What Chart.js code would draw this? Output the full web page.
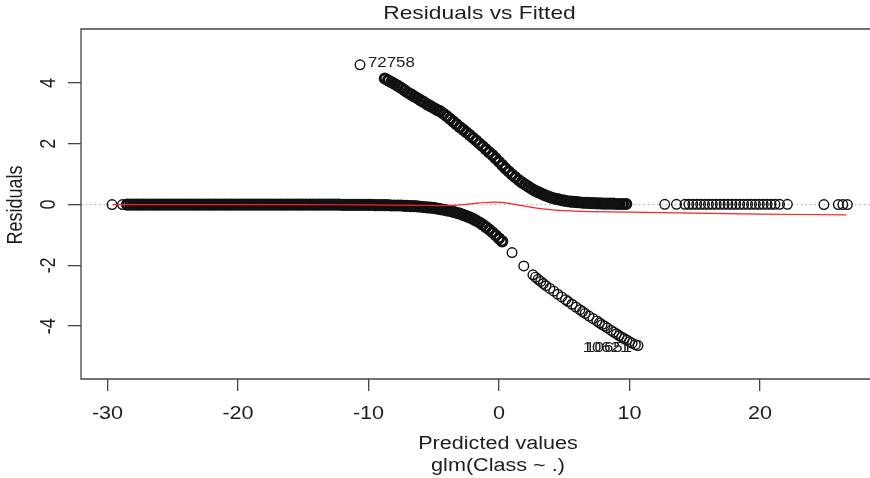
<!DOCTYPE html>
<html>
<head>
<meta charset="utf-8">
<script src="https://cdn.jsdelivr.net/npm/chart.js@4"></script>
<style>
  html, body { margin: 0; background: #fff; }
  #wrap { width: 870px; height: 478px; }
</style>
</head>
<body>
<div id="wrap"><canvas id="myChart"></canvas></div>
<script>
// ticks
const xTicks = [-30, -20, -10, 0, 10, 20];
const yTicks = [-4, -2, 0, 2, 4];

// class 0 residuals: dense band (flat on the left, bending down)
const lowerBandX = [
  -28.5, -28.25, -28, -27.75, -27.5, -27.25, -27, -26.75,
  -26.5, -26.25, -26, -25.75, -25.5, -25.25, -25, -24.75, -24.5, -24.25,
  -24, -23.75, -23.5, -23.25, -23, -22.75, -22.5, -22.25, -22, -21.75,
  -21.5, -21.25, -21, -20.75, -20.5, -20.25, -20, -19.75, -19.5, -19.25,
  -19, -18.75, -18.5, -18.25, -18, -17.75, -17.5, -17.25, -17, -16.75,
  -16.5, -16.25, -16, -15.75, -15.5, -15.25, -15, -14.75, -14.5, -14.25,
  -14, -13.75, -13.5, -13.25, -13, -12.75, -12.5, -12.25, -12, -11.75,
  -11.5, -11.25, -11, -10.75, -10.5, -10.25, -10, -9.75, -9.5, -9.25,
  -9, -8.75, -8.5, -8.25, -8, -7.75, -7.5, -7.25, -7, -6.75,
  -6.5, -6.25, -6, -5.75, -5.5, -5.25, -5, -4.75, -4.5, -4.25,
  -4, -3.75, -3.5, -3.25, -3, -2.75, -2.5, -2.25, -2, -1.75,
  -1.5, -1.25, -1, -0.75, -0.5, -0.25, 0, 0.25
];
const lowerBandY = [
  0, 0, 0, 0, 0, 0, 0, 0,
  0, 0, 0, 0, 0, 0, 0, 0, 0, 0,
  0, 0, 0, 0, 0, 0, 0, 0, 0, 0,
  0, 0, 0, 0, 0, 0, 0, 0, 0, 0,
  0, 0, 0, 0, 0, 0, 0, 0, 0, 0,
  0, 0, 0, 0, 0, 0, 0, 0, 0, 0,
  0, 0, 0, 0, 0, 0, 0, 0, -0.01, -0.01,
  -0.01, -0.01, -0.01, -0.01, -0.01, -0.01, -0.01, -0.01, -0.02, -0.02,
  -0.02, -0.02, -0.02, -0.03, -0.03, -0.03, -0.03, -0.04, -0.04, -0.05,
  -0.05, -0.06, -0.07, -0.08, -0.09, -0.10, -0.11, -0.13, -0.15, -0.17,
  -0.19, -0.21, -0.24, -0.27, -0.30, -0.34, -0.38, -0.42, -0.47, -0.53,
  -0.59, -0.66, -0.74, -0.82, -0.91, -1.01, -1.11, -1.21
];
// class 0 residuals: separate circles
const lowerSparseX = [
  -29.65, -28.85, 1.0, 1.9,
  2.6, 2.8, 3.0, 3.2, 3.4, 3.6, 3.9, 4.2, 4.5, 4.8,
  5.1, 5.3, 5.6, 5.9, 6.2, 6.4, 6.6, 6.9, 7.2, 7.5,
  7.7, 7.9, 8.1, 8.3, 8.6, 8.8, 9.0, 9.2, 9.4, 9.6,
  9.8, 10.0, 10.2, 10.45, 10.65
];
const lowerSparseY = [
  0, 0, -1.58, -2.02,
  -2.31, -2.39, -2.46, -2.53, -2.60, -2.67, -2.76, -2.85, -2.95, -3.04,
  -3.13, -3.19, -3.28, -3.37, -3.46, -3.52, -3.58, -3.67, -3.75, -3.83,
  -3.89, -3.95, -4.00, -4.06, -4.14, -4.20, -4.25, -4.31, -4.36, -4.41,
  -4.46, -4.51, -4.56, -4.61, -4.64
];

// class 1 residuals: dense upper curve
const upperBandX = [
  -8.75, -8.5, -8.25, -8, -7.75, -7.5, -7.25, -7, -6.75,
  -6.5, -6.25, -6, -5.75, -5.5, -5.25, -5, -4.75, -4.5, -4.25,
  -4, -3.75, -3.5, -3.25, -3, -2.75, -2.5, -2.25, -2, -1.75,
  -1.5, -1.25, -1, -0.75, -0.5, -0.25, 0, 0.25, 0.5, 0.75,
  1, 1.25, 1.5, 1.75, 2, 2.25, 2.5, 2.75, 3, 3.25,
  3.5, 3.75, 4, 4.25, 4.5, 4.75, 5, 5.25, 5.5, 5.75,
  6, 6.25, 6.5, 6.75, 7, 7.25, 7.5, 7.75, 8, 8.25,
  8.5, 8.75, 9, 9.25, 9.5, 9.75
];
const upperBandY = [
  4.15, 4.09, 4.03, 3.97, 3.91, 3.84, 3.77, 3.69, 3.63,
  3.56, 3.50, 3.43, 3.37, 3.30, 3.24, 3.18, 3.12, 3.07, 2.99,
  2.91, 2.82, 2.73, 2.64, 2.55, 2.47, 2.38, 2.29, 2.20, 2.11,
  2.01, 1.92, 1.82, 1.72, 1.63, 1.52, 1.41, 1.30, 1.19, 1.09,
  0.99, 0.90, 0.81, 0.73, 0.66, 0.59, 0.52, 0.46, 0.41, 0.36,
  0.31, 0.27, 0.23, 0.20, 0.18, 0.15, 0.13, 0.11, 0.10, 0.09,
  0.08, 0.07, 0.06, 0.06, 0.05, 0.05, 0.04, 0.04, 0.03, 0.03,
  0.03, 0.03, 0.02, 0.02, 0.02, 0.02
];
// class 1 residuals: separate circles
const upperSparseX = [
  -10.65, 12.7, 13.6, 14.25, 14.55,
  14.85, 15.15, 15.45, 15.75, 16.05, 16.35, 16.65, 16.95, 17.25, 17.55,
  17.85, 18.15, 18.45, 18.75, 19.05, 19.35, 19.65, 19.95, 20.25, 20.55,
  20.85, 21.15, 21.5, 22.1, 24.9, 26.0, 26.35, 26.7
];
const upperSparseY = [
  4.6, 0.01, 0.01, 0.01, 0.01,
  0.01, 0.01, 0.01, 0.01, 0.01, 0.01, 0.01, 0.01, 0.01, 0.01,
  0.01, 0.01, 0.01, 0.01, 0.01, 0.01, 0.01, 0.01, 0.01, 0.01,
  0.01, 0.01, 0.01, 0.01, 0, 0, 0, 0
];

// red smoother
const smoothX = [-29.6, -25, -20, -15, -10, -7, -5, -4, -3, -2, -1, -0.3, 0.5, 1.5, 2.5, 3.5, 5, 7, 10, 15, 20, 26.6];
const smoothY = [0, 0, 0, 0, -0.01, -0.02, -0.03, -0.03, -0.01, 0.03, 0.07, 0.08, 0.06, -0.02, -0.09, -0.15, -0.2, -0.23, -0.25, -0.28, -0.31, -0.34];

// labelled observations
const labelNames = ["72758", "10651", "10621"];
const labelX = [-10.65, 10.65, 10.45];
const labelY = [4.6, -4.64, -4.61];

const xMin = -32.03, xMax = 28.43;
const yMin = -5.74, yMax = 5.78;
const zeroLineX = [xMin, xMax];

const stretch = 1.2;
const ink = "#1e1e1e";

function txt(ctx, s, x, y, size, rot, align) {
  ctx.save();
  ctx.translate(x, y);
  ctx.scale(stretch, 1);
  if (rot) ctx.rotate(-Math.PI / 2);
  ctx.font = size + 'px "Liberation Sans", Arial, sans-serif';
  ctx.textAlign = align || "center";
  ctx.textBaseline = "middle";
  ctx.fillStyle = ink;
  ctx.fillText(s, 0, 0);
  ctx.restore();
}

const pts = (xs, ys) => xs.map((v, i) => ({ x: v, y: ys[i] }));

const rPlot = {
  id: "rPlot",
  afterDraw(chart) {
    const ctx = chart.ctx;
    const a = chart.chartArea;
    const xs = chart.scales.x, ys = chart.scales.y;
    // box (right side falls outside the picture)
    ctx.save();
    ctx.strokeStyle = "#444";
    ctx.lineWidth = 1.3;
    ctx.beginPath();
    ctx.moveTo(a.right + 2, a.top);
    ctx.lineTo(a.left, a.top);
    ctx.lineTo(a.left, a.bottom);
    ctx.lineTo(a.right + 2, a.bottom);
    ctx.stroke();
    ctx.restore();

    txt(ctx, "Residuals vs Fitted", 479.5, 14, 19);
    xs.ticks.forEach(t => txt(ctx, String(t.value), xs.getPixelForValue(t.value), 414, 18));
    ys.ticks.forEach(t => txt(ctx, String(t.value), 49, ys.getPixelForValue(t.value), 18, true));
    txt(ctx, "Predicted values", 498, 444, 18);
    txt(ctx, "glm(Class ~ .)", 498, 466, 18);
    txt(ctx, "Residuals", 16, 205, 18, true);

    labelNames.forEach((n, i) => {
      const px = xs.getPixelForValue(labelX[i]);
      const py = ys.getPixelForValue(labelY[i]);
      if (labelY[i] > 0) txt(ctx, n, px + 8, py - 2, 14, false, "left");
      else txt(ctx, n, px - 6, py + 3, 14, false, "right");
    });
  }
};

const band = { borderColor: "#111", backgroundColor: "transparent", pointRadius: 4.6, borderWidth: 3 };
const ring = { borderColor: "#111", backgroundColor: "transparent", pointRadius: 4.8, borderWidth: 1.4 };

new Chart(document.getElementById("myChart"), {
  type: "scatter",
  data: {
    datasets: [
      {
        data: pts(smoothX, smoothY),
        showLine: true,
        borderColor: "#ff2020",
        borderWidth: 1.2,
        pointRadius: 0,
        tension: 0.4
      },
      Object.assign({ data: pts(upperBandX, upperBandY) }, band),
      Object.assign({ data: pts(lowerBandX, lowerBandY) }, band),
      Object.assign({ data: pts(upperSparseX, upperSparseY) }, ring),
      Object.assign({ data: pts(lowerSparseX, lowerSparseY) }, ring),
      {
        data: pts(zeroLineX, [0, 0]),
        showLine: true,
        borderColor: "#aaa",
        borderWidth: 1,
        borderDash: [1.5, 3],
        pointRadius: 0
      }
    ]
  },
  options: {
    responsive: true,
    maintainAspectRatio: false,
    animation: false,
    layout: { autoPadding: false, padding: { top: 29, right: 0, left: 0, bottom: 0 } },
    plugins: { legend: { display: false }, tooltip: { enabled: false } },
    scales: {
      x: {
        type: "linear",
        min: xMin,
        max: xMax,
        afterBuildTicks: s => { s.ticks = xTicks.map(v => ({ value: v })); },
        afterFit: s => { s.height = 99; },
        ticks: { display: false },
        grid: { drawOnChartArea: false, drawTicks: true, tickLength: 12, color: "#444", lineWidth: 1.3 },
        border: { display: false }
      },
      y: {
        min: yMin,
        max: yMax,
        afterBuildTicks: s => { s.ticks = yTicks.map(v => ({ value: v })); },
        afterFit: s => { s.width = 81; },
        ticks: { display: false },
        grid: { drawOnChartArea: false, drawTicks: true, tickLength: 13, color: "#444", lineWidth: 1.3 },
        border: { display: false }
      }
    }
  },
  plugins: [rPlot]
});
</script>
</body>
</html>
